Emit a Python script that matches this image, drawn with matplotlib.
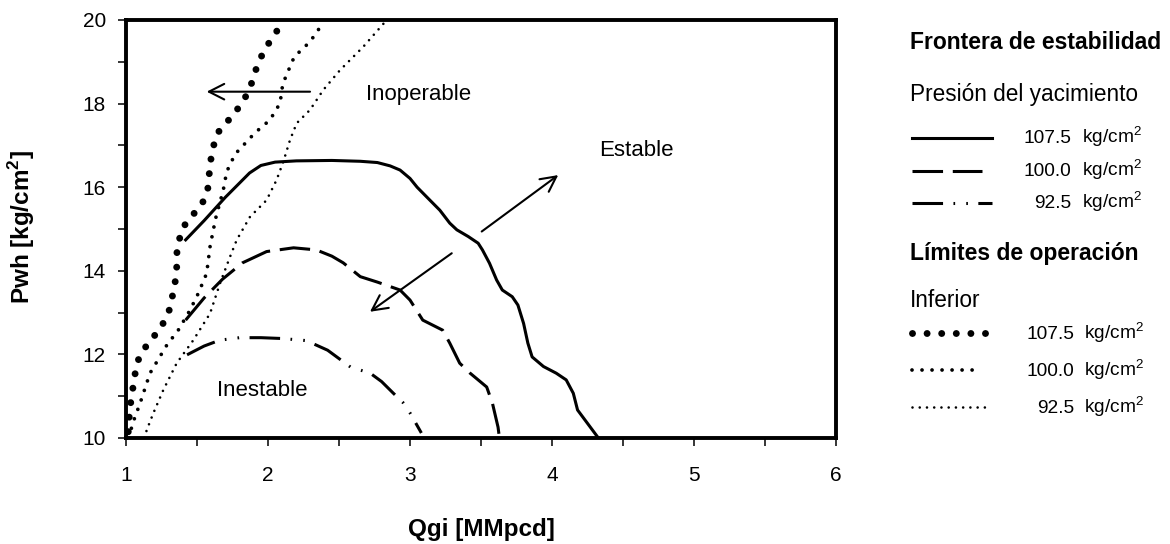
import matplotlib
matplotlib.use("Agg")
import matplotlib.pyplot as plt
from matplotlib.ticker import MultipleLocator

plt.rcParams['font.family'] = ['Liberation Sans', 'DejaVu Sans']
plt.rcParams['mathtext.fontset'] = 'custom'
plt.rcParams['mathtext.rm'] = 'Liberation Sans'
plt.rcParams['mathtext.bf'] = 'Liberation Sans:bold'
plt.rcParams['lines.scale_dashes'] = False

# stability boundary, one curve per reservoir pressure
qgi_1075 = [1.42, 1.55, 1.70, 1.87, 1.95, 2.05, 2.20, 2.45, 2.65, 2.77, 2.86, 2.93, 3.00,
            3.05, 3.14, 3.21, 3.28, 3.33, 3.41, 3.48, 3.51, 3.56, 3.61, 3.65, 3.72, 3.76,
            3.80, 3.83, 3.86, 3.94, 4.03, 4.10, 4.15, 4.18, 4.25, 4.32]
pwh_1075 = [14.74, 15.20, 15.76, 16.34, 16.52, 16.60, 16.63, 16.64, 16.62, 16.59, 16.51,
            16.41, 16.21, 16.00, 15.69, 15.45, 15.14, 14.98, 14.82, 14.66, 14.50, 14.18,
            13.78, 13.54, 13.38, 13.18, 12.74, 12.27, 11.94, 11.71, 11.55, 11.39, 11.07,
            10.67, 10.35, 10.03]

qgi_1000 = [1.42, 1.55, 1.68, 1.82, 1.99, 2.18, 2.34, 2.45, 2.53, 2.65, 2.77, 2.93, 3.00,
            3.09, 3.23, 3.28, 3.35, 3.42, 3.54, 3.58, 3.62, 3.63]
pwh_1000 = [12.82, 13.35, 13.80, 14.19, 14.46, 14.55, 14.50, 14.35, 14.19, 13.86, 13.73,
            13.54, 13.30, 12.82, 12.58, 12.27, 11.79, 11.56, 11.22, 10.84, 10.26, 10.00]

qgi_925 = [1.43, 1.55, 1.66, 1.80, 1.95, 2.10, 2.27, 2.42, 2.58, 2.72, 2.80, 2.88, 2.95,
           3.00, 3.05, 3.08]
pwh_925 = [11.99, 12.20, 12.34, 12.40, 12.40, 12.38, 12.33, 12.10, 11.70, 11.55, 11.35,
           11.08, 10.85, 10.60, 10.30, 10.12]

# lower operating limit, one curve per reservoir pressure
lim_q_1075 = [1.016, 1.023, 1.033, 1.047, 1.063, 1.087, 1.134, 1.199, 1.258, 1.303, 1.326,
              1.345, 1.357, 1.357, 1.375, 1.408, 1.474, 1.537, 1.575, 1.585, 1.596, 1.615,
              1.643, 1.709, 1.775, 1.833, 1.878, 1.908, 1.944, 1.995, 2.049, 2.108]
lim_p_1075 = [10.15, 10.51, 10.84, 11.16, 11.52, 11.87, 12.16, 12.44, 12.72, 13.04, 13.38,
              13.70, 14.06, 14.40, 14.75, 15.07, 15.35, 15.61, 15.93, 16.28, 16.63, 16.97,
              17.29, 17.55, 17.82, 18.10, 18.42, 18.75, 19.07, 19.39, 19.67, 19.96]

lim_q_1000 = [1.02, 1.047, 1.099, 1.169, 1.287, 1.368, 1.451, 1.509, 1.568, 1.592, 1.615,
              1.634, 1.685, 1.709, 1.768, 1.908, 2.014, 2.085, 2.103, 2.127, 2.185, 2.296,
              2.39]
lim_p_1000 = [10.00, 10.35, 10.83, 11.55, 12.22, 12.58, 13.06, 13.46, 13.94, 14.58, 14.98,
              15.29, 15.93, 16.37, 16.79, 17.30, 17.61, 18.01, 18.45, 18.66, 19.12, 19.48,
              19.94]

lim_q_925 = [1.13, 1.146, 1.192, 1.263, 1.357, 1.474, 1.592, 1.662, 1.732, 1.78, 1.873,
             1.99, 2.06, 2.108, 2.155, 2.202, 2.296, 2.39, 2.507, 2.671, 2.836]
lim_p_925 = [10.00, 10.19, 10.59, 11.15, 11.79, 12.34, 12.98, 13.70, 14.33, 14.74, 15.29,
             15.69, 16.17, 16.61, 17.13, 17.53, 17.85, 18.33, 18.80, 19.36, 20.00]

x_ticks = [1, 2, 3, 4, 5, 6]
y_ticks = [10, 12, 14, 16, 18, 20]
pressures = ['107.5', '100.0', '92.5']

# arrows (tail, head) in data units
arrow_left = [(2.296, 18.285), (1.568, 18.285)]
arrow_out = [(3.505, 14.94), (4.044, 16.29)]
arrow_in = [(3.294, 14.42), (2.718, 13.02)]

boundary_styles = [
    dict(linestyle='-', lw=2.2),
    dict(linestyle=(0, (22, 7)), lw=2.2),
    dict(linestyle=(0, (22, 7.5, 1.2, 8, 1.2, 7.5)), lw=2.2),
]
limit_styles = [
    dict(linestyle=(0, (0.01, 10.5)), lw=5.0, dash_capstyle='round'),
    dict(linestyle=(0, (0.01, 7.2)), lw=2.7, dash_capstyle='round'),
    dict(linestyle=(0, (0.01, 5.2)), lw=1.9, dash_capstyle='round'),
]

fig = plt.figure(figsize=(11.7, 5.44), dpi=100)
ax = fig.add_axes([126 / 1170, 1 - 438 / 544, 710 / 1170, 418 / 544])

for (q, p), st in zip([(qgi_1075, pwh_1075), (qgi_1000, pwh_1000), (qgi_925, pwh_925)],
                      boundary_styles):
    ax.plot(q, p, color='black', solid_joinstyle='round', **st)
for (q, p), st in zip([(lim_q_1075, lim_p_1075), (lim_q_1000, lim_p_1000),
                       (lim_q_925, lim_p_925)], limit_styles):
    ax.plot(q, p, color='black', **st)

arrow_kw = dict(arrowstyle='->,head_length=0.55,head_width=0.28', lw=1.5,
                color='black', shrinkA=0, shrinkB=0, mutation_scale=20)
for tail, head in [arrow_left, arrow_out, arrow_in]:
    ax.annotate('', xy=head, xytext=tail, arrowprops=arrow_kw)

ax.text(3.06, 18.09, 'Inoperable', fontsize=16, ha='center', va='baseline')
ax.text(4.595, 16.75, 'Estable', fontsize=16, ha='center', va='baseline')
ax.text(1.961, 11.01, 'Inestable', fontsize=16, ha='center', va='baseline')

ax.set_xlim(1, 6)
ax.set_ylim(10, 20)
ax.set_xticks(x_ticks)
ax.set_yticks(y_ticks)
ax.xaxis.set_minor_locator(MultipleLocator(0.5))
ax.yaxis.set_minor_locator(MultipleLocator(1))
ax.tick_params(which='both', direction='out', length=5.5, width=1.1, labelsize=15)
ax.tick_params(axis='x', which='major', pad=15)
ax.tick_params(axis='y', which='major', pad=9)
for s in ax.spines.values():
    s.set_linewidth(2.8)

ax.set_xlabel('Qgi [MMpcd]', fontsize=17.5, fontweight='bold')
ax.set_ylabel(r'Pwh [kg/cm$^\mathbf{2}$]', fontsize=17.5, fontweight='bold')
ax.xaxis.set_label_coords(0.5, -0.191)
ax.yaxis.set_label_coords(-0.125, 0.505)

# legend block drawn in pixel coordinates on an overlay
leg = fig.add_axes([0, 0, 1, 1])
leg.set_xlim(0, 1170)
leg.set_ylim(544, 0)
leg.axis('off')

leg.text(910, 49, 'Frontera de estabilidad', fontsize=16.5, fontweight='bold', va='baseline')
leg.text(910, 101, 'Presión del yacimiento', fontsize=16.3, va='baseline')
for y, st, lab, x1 in zip([138, 171, 203], boundary_styles, pressures, [992, 982, 992]):
    leg.plot([912, x1], [y, y], color='black', **st)
    leg.text(1071, y + 5, lab, fontsize=13.8, ha='right', va='baseline')
    leg.text(1082, y + 5, r'kg/cm$^2$', fontsize=13.8, ha='left', va='baseline')

leg.text(910, 260, 'Límites de operación', fontsize=16.5, fontweight='bold', va='baseline')
leg.text(910, 307, 'Inferior', fontsize=16.3, va='baseline')
for y, st, lab, x1 in zip([333, 370, 407], limit_styles, pressures, [988, 982, 985]):
    leg.plot([912, x1], [y, y], color='black', **st)
    leg.text(1074, y + 6, lab, fontsize=13.8, ha='right', va='baseline')
    leg.text(1084, y + 6, r'kg/cm$^2$', fontsize=13.8, ha='left', va='baseline')

fig.savefig('out.png', dpi=100)
